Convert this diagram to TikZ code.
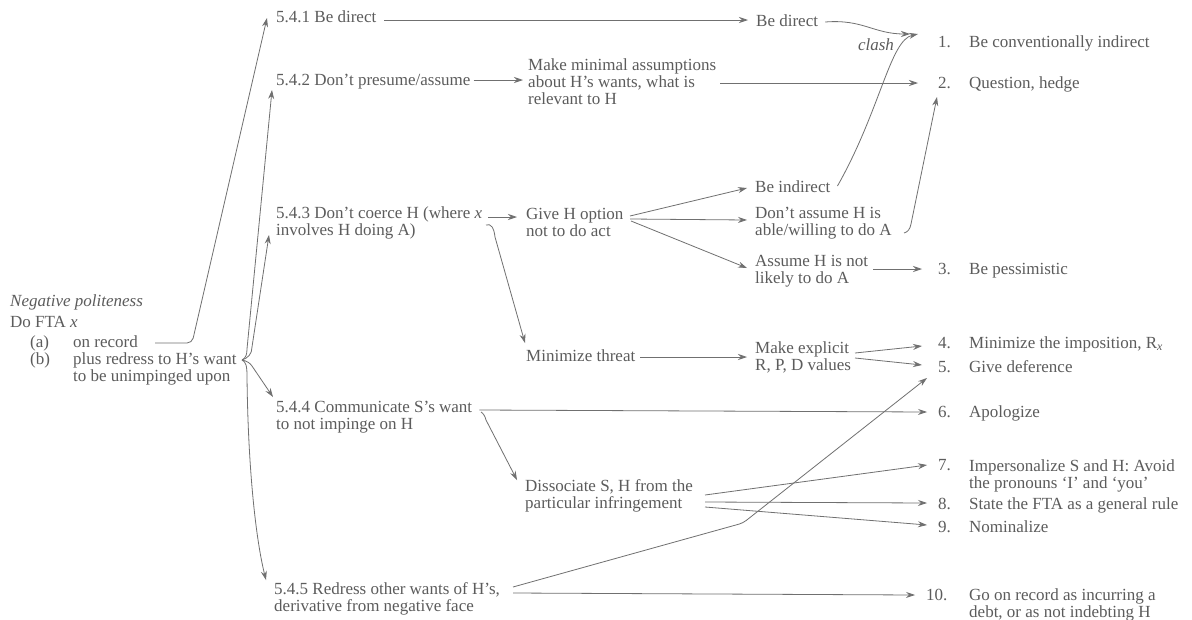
\documentclass[tikz,border=0pt]{standalone}
\usepackage{fontspec}
\setmainfont{Liberation Serif}
\usetikzlibrary{arrows.meta,calc}
\definecolor{ink}{RGB}{92,92,92}
\definecolor{wire}{RGB}{112,112,112}
\begin{document}
\begin{tikzpicture}[x=1pt,y=-1pt,
  lbl/.style={inner sep=0pt, anchor=base west, text=ink, align=left,
              font=\fontsize{17}{17}\selectfont},
  itlbl/.style={lbl, font=\fontsize{17}{17}\selectfont\itshape},
  conn/.style={draw=wire, line width=0.8pt},
  arr/.style={conn, -{Stealth[length=9pt,width=6pt,inset=3pt]}},
]
\useasboundingbox (0,0) rectangle (1192,619);
\fill[white] (0,0) rectangle (1192,619);

% multi-line labels are placed by the baseline of their last line

% left: the strategy being chosen
\node[itlbl] (neg) at (10,306) {Negative politeness};
\node[lbl] (dofta) at (10,327) {Do FTA \textit{x}};
\node[lbl] (la) at (30,347) {(a)};
\node[lbl] (onrec) at (73,347) {on record};
\node[lbl] (lb) at (30,364) {(b)};
\node[lbl] (redress) at (73,381) {plus redress to H's want\\to be unimpinged upon};

% the five subsections
\node[lbl] (c541) at (276,22) {5.4.1 Be direct};
\node[lbl] (c542) at (276,85) {5.4.2 Don't presume/assume};
\node[lbl] (c543) at (276,235) {5.4.3 Don't coerce H (where \textit{x}\\involves H doing A)};
\node[lbl] (c544) at (276,429) {5.4.4 Communicate S's want\\to not impinge on H};
\node[lbl] (c545) at (274,611) {5.4.5 Redress other wants of H's,\\derivative from negative face};

% intermediate goals
\node[lbl] (minass) at (528,104) {Make minimal assumptions\\about H's wants, what is\\relevant to H};
\node[lbl] (give) at (526,236) {Give H option\\not to do act};
\node[lbl] (minthr) at (526,361) {Minimize threat};
\node[lbl] (dissoc) at (525,508) {Dissociate S, H from the\\particular infringement};

\node[lbl] (bedir) at (756,26) {Be direct};
\node[lbl] (beind) at (755,192) {Be indirect};
\node[lbl] (dontass) at (755,235) {Don't assume H is\\able/willing to do A};
\node[lbl] (asspess) at (755,283) {Assume H is not\\likely to do A};
\node[lbl] (mkexp) at (755,370) {Make explicit\\R, P, D values};
\node[itlbl, anchor=base] (clash) at (876,50) {clash};

% numbered outputs
\node[lbl] (num1) at (938,47) {1.};
\node[lbl] (num2) at (938,88) {2.};
\node[lbl] (num3) at (938,274) {3.};
\node[lbl] (num4) at (938,348) {4.};
\node[lbl] (num5) at (938,372) {5.};
\node[lbl] (num6) at (938,417) {6.};
\node[lbl] (num7) at (938,470) {7.};
\node[lbl] (num8) at (938,509) {8.};
\node[lbl] (num9) at (938,532) {9.};
\node[lbl] (num10) at (926,600) {10.};

\node[lbl] (r1) at (969,47) {Be conventionally indirect};
\node[lbl] (r2) at (969,88) {Question, hedge};
\node[lbl] (r3) at (969,274) {Be pessimistic};
\node[lbl] (r4) at (969,348) {Minimize the imposition, R\textsubscript{\itshape x}};
\node[lbl] (r5) at (969,372) {Give deference};
\node[lbl] (r6) at (969,417) {Apologize};
\node[lbl] (r7) at (969,488) {Impersonalize S and H: Avoid\\the pronouns `I' and `you'};
\node[lbl] (r8) at (969,509) {State the FTA as a general rule};
\node[lbl] (r9) at (969,532) {Nominalize};
\node[lbl] (r10) at (969,617) {Go on record as incurring a\\debt, or as not indebting H};

% on record -> be direct
\draw[arr, rounded corners=5pt] ($(onrec.base east)+(17,-4)$) -- ($(onrec.base east)+(54,-4)$)
  -- ($(c541.base west)+(-9,-4)$);

% brace after (b) and its four branches
\coordinate (brc) at ($(redress.base west)+(169,-21)$);
\draw[arr] (brc) .. controls ($(brc)+(4,-2)$) and ($(brc)+(5,-6)$) .. ($(brc)+(5,-11)$)
  -- ($(c542.base west)+(-4,5)$);
\draw[arr] (brc) .. controls ($(brc)+(6,-2)$) and ($(brc)+(10,-6)$) .. ($(brc)+(10,-13)$)
  -- ($(c543.base west)+(-7,0)$);
\draw[arr] (brc) .. controls ($(brc)+(5,1)$) and ($(brc)+(8,3)$) .. ($(brc)+(10,6)$)
  -- ($(c544.base west)+(-3,-32)$);
\draw[arr] (brc) .. controls ($(brc)+(4,2)$) and ($(brc)+(5,6)$) .. ($(brc)+(5,16)$)
  .. controls ($(brc)+(6,110)$) and ($(brc)+(14,180)$) .. ($(c545.base west)+(-8,-31)$);

% 5.4.1
\draw[arr] ($(c541.base east)+(8,-2)$) -- ($(bedir.base west)+(-8,-6)$);
\draw[arr] ($(bedir.base east)+(7,-4)$) .. controls ($(bedir.base east)+(45,-7)$)
  and ($(bedir.base east)+(55,8)$) .. ($(num1.base west)+(-28,-13)$);
\draw[arr] ($(beind.base east)+(7,-6)$) .. controls ($(beind.base east)+(50,-82)$)
  and ($(num1.base west)+(-48,-7)$) .. ($(num1.base west)+(-20,-13)$);

% 5.4.2
\draw[arr] ($(c542.base east)+(3,-5)$) -- ($(minass.base west)+(-5,-24)$);
\draw[arr] ($(minass.base west)+(192,-21)$) -- ($(num2.base west)+(-20,-5)$);

% 5.4.3
\draw[arr] ($(c543.base west)+(212,-18)$) -- ($(give.base west)+(-9,-19)$);
\draw[arr] ($(c543.base west)+(210,-10)$) .. controls ($(c543.base west)+(215,-12)$)
  and ($(c543.base west)+(218,-7)$) .. ($(c543.base west)+(219,2)$)
  -- ($(minthr.base west)+(-1,-18)$);
\draw[arr] ($(give.base west)+(104,-20)$) -- ($(beind.base west)+(-8,-4)$);
\draw[arr] ($(give.base west)+(104,-17)$) -- ($(dontass.base west)+(-8,-15)$);
\draw[arr] ($(give.base west)+(105,-15)$) -- ($(asspess.base west)+(-8,-15)$);
\draw[arr] ($(dontass.base west)+(149,-2)$) .. controls ($(dontass.base west)+(153,-3)$)
  and ($(dontass.base west)+(155,-6)$) .. ($(dontass.base west)+(156,-11)$)
  -- ($(num2.base west)+(-1,9)$);
\draw[arr] ($(asspess.base west)+(118,-14)$) -- ($(num3.base west)+(-16,-5)$);
\draw[arr] ($(minthr.base east)+(5,-4)$) -- ($(mkexp.base west)+(-8,-13)$);
\draw[arr] ($(mkexp.base west)+(100,-17)$) -- ($(num4.base west)+(-16,-2)$);
\draw[arr] ($(mkexp.base west)+(100,-12)$) -- ($(num5.base west)+(-16,-7)$);

% 5.4.4
\draw[arr] ($(c544.base east)+(7,-19)$) -- ($(num6.base west)+(-11,-5)$);
\draw[arr] ($(c544.base west)+(205,-17)$) .. controls ($(c544.base west)+(207,-16)$)
  and ($(c544.base west)+(209,-13)$) .. ($(c544.base west)+(210,-9)$)
  -- ($(dissoc.base west)+(-8,-28)$);
\draw[arr] ($(dissoc.base west)+(180,-13)$) -- ($(num7.base west)+(-11,-5)$);
\draw[arr] ($(dissoc.base west)+(180,-6)$) -- ($(num8.base west)+(-11,-6)$);
\draw[arr] ($(dissoc.base west)+(180,-1)$) -- ($(num9.base west)+(-11,-7)$);

% 5.4.5
\draw[arr, rounded corners=4pt] ($(c545.base west)+(239,-24)$) -- ($(c545.base west)+(469,-88)$)
  -- ($(num5.base west)+(-11,6)$);
\draw[arr] ($(c545.base west)+(239,-18)$) -- ($(num10.base west)+(-11,-5)$);
\end{tikzpicture}
\end{document}
